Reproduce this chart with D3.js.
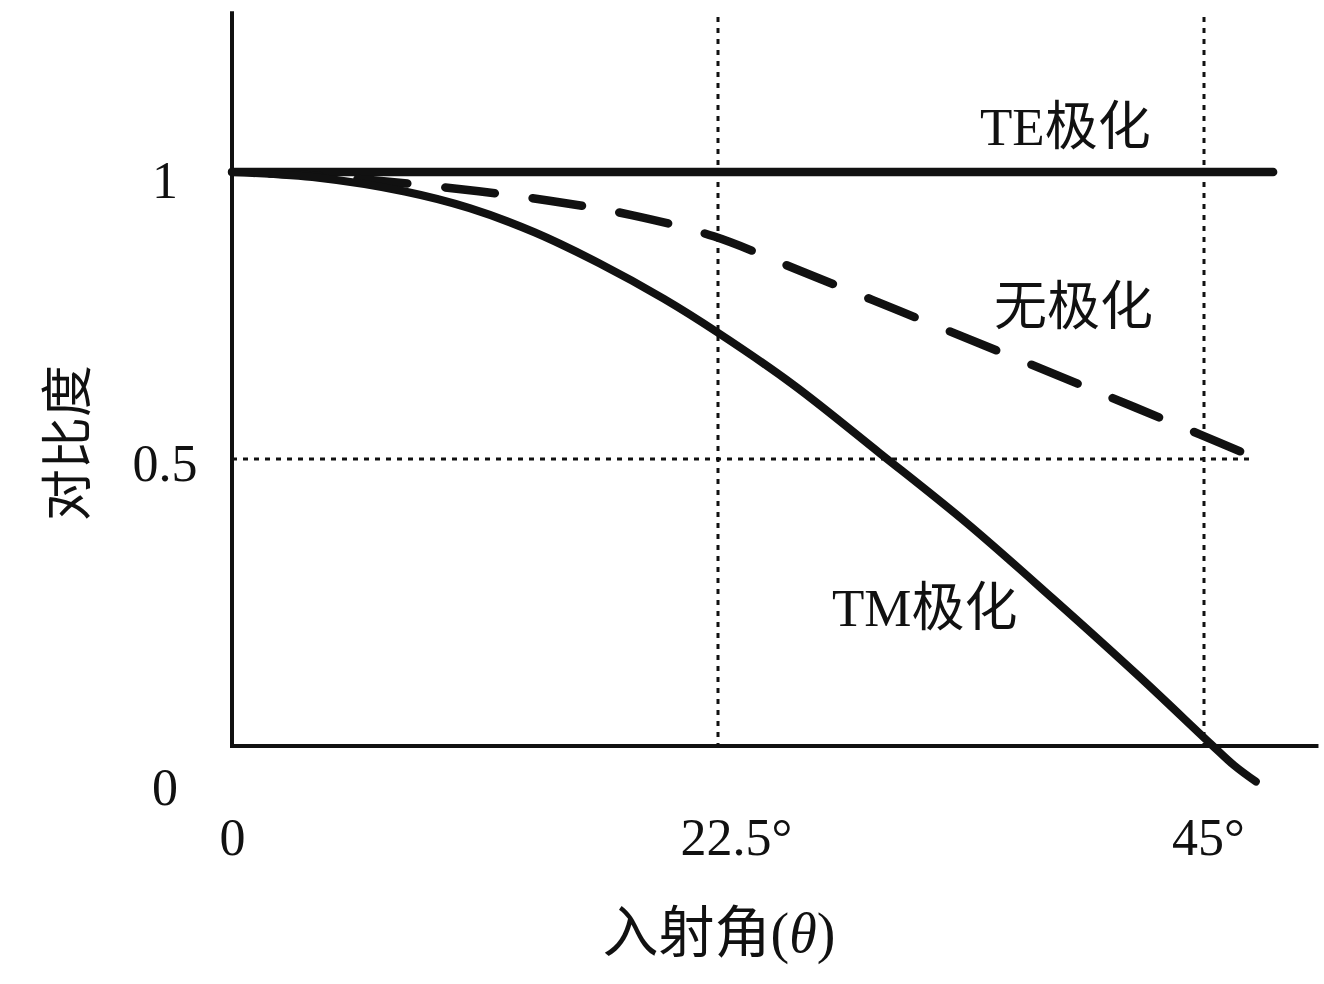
<!DOCTYPE html>
<html>
<head>
<meta charset="utf-8">
<script src="https://cdn.jsdelivr.net/npm/d3@7"></script>
<style>
  html, body { margin: 0; padding: 0; background: #fff; }
  svg { display: block; }
</style>
</head>
<body>
<svg id="chart" width="1324" height="984"></svg>
<script>
// ---- data ----
const teAngles = [0, 48.2];
const teValues = [1, 1];

const unpolAngles = [0, 3.2, 6.4, 10.6, 14.7, 18.5, 22.3, 26.3, 30.9, 35.6, 40.2, 44.8, 47.2];
const unpolValues = [1.0, 0.995, 0.986, 0.970, 0.950, 0.925, 0.888, 0.828, 0.758, 0.686, 0.615, 0.543, 0.505];

const tmAngles = [0, 4, 8, 11, 14, 17, 20, 22.5, 26, 30, 34, 38, 42, 45.3, 46.4, 47.4];
const tmValues = [1.0, 0.990, 0.966, 0.937, 0.895, 0.841, 0.779, 0.720, 0.629, 0.510, 0.389, 0.257, 0.121, 0.004, -0.034, -0.062];

const xTickValues = [0, 22.5, 45];
const xTickLabels = ["0", "22.5°", "45°"];
const yTickValues = [0, 0.5, 1];
const yTickLabels = ["0", "0.5", "1"];

const refAngles = [22.5, 45];   // vertical dotted guides
const refValue = 0.5;          // horizontal dotted guide
const refValueEnd = 47.2;

const seriesLabels = ["TE极化", "无极化", "TM极化"];
const xTitle = "入射角";
const yTitle = "对比度";

const xAxisEnd = 50.3;
const yAxisTop = 1.28;
const guideTop = 1.27;

// ---- drawing ----
const svg = d3.select("#chart");
const x = d3.scaleLinear().domain([0, 45]).range([232, 1204]);
const y = d3.scaleLinear().domain([0, 1]).range([746, 172]);

const serif = "'Liberation Serif', 'Times New Roman', 'Noto Sans CJK SC', serif";

// dotted guides
refAngles.forEach(a => {
  svg.append("line")
    .attr("x1", x(a)).attr("x2", x(a))
    .attr("y1", y(guideTop)).attr("y2", y(0))
    .attr("stroke", "#111").attr("stroke-width", 3)
    .attr("stroke-dasharray", "5,6");
});
svg.append("line")
  .attr("x1", x(0)).attr("x2", x(refValueEnd))
  .attr("y1", y(refValue)).attr("y2", y(refValue))
  .attr("stroke", "#111").attr("stroke-width", 3)
  .attr("stroke-dasharray", "5,6");

// x axis
const xAxis = d3.axisBottom(x)
  .tickValues(xTickValues)
  .tickFormat((d, i) => xTickLabels[i])
  .tickSize(0)
  .tickSizeOuter(0)
  .tickPadding(72);
const gx = svg.append("g").attr("transform", `translate(0,${y(0)})`).call(xAxis);
gx.select(".domain").remove();
gx.selectAll("text")
  .attr("font-family", serif).attr("font-size", 52).attr("fill", "#111")
  .attr("dx", (d) => d === 0 ? 0 : (d === 45 ? 4 : 18));
svg.append("line")
  .attr("x1", x(0) - 1).attr("x2", x(xAxisEnd))
  .attr("y1", y(0)).attr("y2", y(0))
  .attr("stroke", "#111").attr("stroke-width", 4);

// y axis
const yAxis = d3.axisLeft(y)
  .tickValues(yTickValues)
  .tickFormat((d, i) => yTickLabels[i])
  .tickSize(0)
  .tickSizeOuter(0);
const gy = svg.append("g").attr("transform", `translate(${x(0)},0)`).call(yAxis);
gy.select(".domain").remove();
gy.selectAll("text")
  .attr("font-family", serif).attr("font-size", 52).attr("fill", "#111")
  .attr("text-anchor", "middle")
  .attr("x", -67)
  .attr("dy", d => d === 0 ? "58px" : (d === 1 ? "25px" : "21px"));
svg.append("line")
  .attr("x1", x(0)).attr("x2", x(0))
  .attr("y1", y(yAxisTop)).attr("y2", y(0) + 2)
  .attr("stroke", "#111").attr("stroke-width", 4);

// series
const line = d3.line().x(d => x(d[0])).y(d => y(d[1])).curve(d3.curveCatmullRom.alpha(0.5));

svg.append("path")
  .datum(d3.zip(teAngles, teValues))
  .attr("d", line)
  .attr("fill", "none").attr("stroke", "#111")
  .attr("stroke-width", 8.5).attr("stroke-linecap", "round");

const dashed = svg.append("path")
  .datum(d3.zip(unpolAngles, unpolValues))
  .attr("d", line)
  .attr("fill", "none").attr("stroke", "#111")
  .attr("stroke-width", 8.5).attr("stroke-linecap", "round");
const dashLen = 50, gapLen = 38;
const L = dashed.node().getTotalLength();
const period = dashLen + gapLen;
dashed.attr("stroke-dasharray", `${dashLen},${gapLen}`)
  .attr("stroke-dashoffset", -(dashLen - (L % period)));

svg.append("path")
  .datum(d3.zip(tmAngles, tmValues))
  .attr("d", line)
  .attr("fill", "none").attr("stroke", "#111")
  .attr("stroke-width", 8).attr("stroke-linecap", "round");

// series labels
const labelFont = serif;
svg.append("text").attr("x", 980).attr("y", 145)
  .attr("font-family", labelFont).attr("font-size", 53).attr("fill", "#111")
  .text(seriesLabels[0]);
svg.append("text").attr("x", 994).attr("y", 325)
  .attr("font-family", labelFont).attr("font-size", 53).attr("fill", "#111")
  .text(seriesLabels[1]);
svg.append("text").attr("x", 832).attr("y", 626)
  .attr("font-family", labelFont).attr("font-size", 53).attr("fill", "#111")
  .text(seriesLabels[2]);

// axis titles
const xt = svg.append("text").attr("x", 719).attr("y", 952)
  .attr("text-anchor", "middle")
  .attr("font-family", labelFont).attr("font-size", 56).attr("fill", "#111");
xt.append("tspan").text(xTitle + "(");
xt.append("tspan").attr("font-style", "italic").text("θ");
xt.append("tspan").text(")");

svg.append("text")
  .attr("transform", "translate(86,443) rotate(-90)")
  .attr("text-anchor", "middle")
  .attr("font-family", labelFont).attr("font-size", 52).attr("fill", "#111")
  .text(yTitle);
</script>
</body>
</html>
